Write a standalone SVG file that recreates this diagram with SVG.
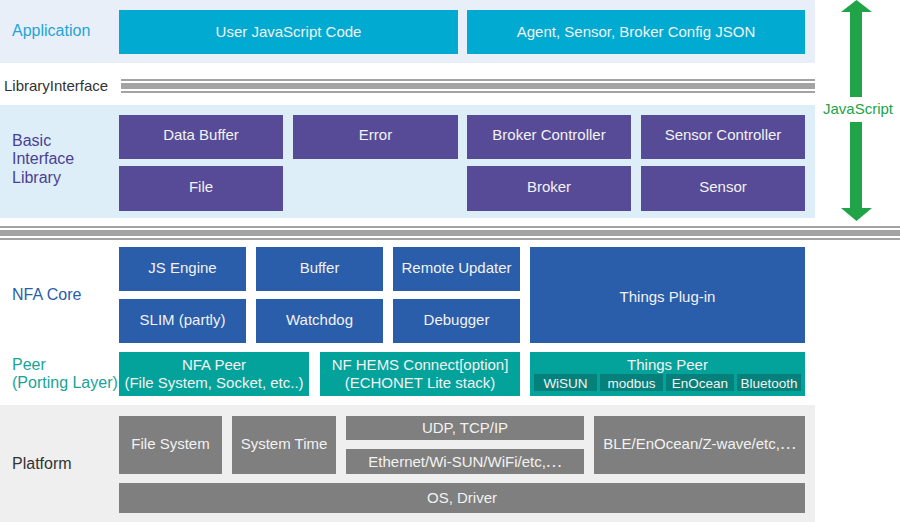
<svg xmlns="http://www.w3.org/2000/svg" width="900" height="522" viewBox="0 0 900 522">
<style>
text{font-family:"Liberation Sans",Arial,sans-serif;}
.bt{font-size:15px;fill:#f2f2f2;text-anchor:middle;}
.st{font-size:13.5px;fill:#f2f2f2;text-anchor:middle;}
.lb{font-size:16px;}
.jp{font-family:"Noto Sans CJK JP",sans-serif;}
.app{fill:#00aad1;}
.bil{fill:#574b97;}
.core{fill:#2a5daa;}
.peer{fill:#03a29a;}
.sub{fill:#06807a;}
.plat{fill:#7f7f7f;}
.stripe{fill:#a3a3a3;}
.arrow{fill:#21a448;}
</style>
<rect width="900" height="522" fill="#ffffff"/>
<!-- bands -->
<rect x="0" y="0" width="815" height="63" fill="#e9eff8"/>
<rect x="0" y="105" width="815" height="113" fill="#ddeef9"/>
<rect x="0" y="405" width="815" height="117" fill="#efefef"/>
<!-- separators -->
<g id="library-interface-line">
<rect class="stripe" x="121" y="79" width="694" height="2"/>
<rect class="stripe" x="121" y="83" width="694" height="6"/>
<rect class="stripe" x="121" y="91" width="694" height="2"/>
</g>
<g id="core-separator">
<rect class="stripe" x="0" y="226" width="900" height="2"/>
<rect class="stripe" x="0" y="230" width="900" height="6"/>
<rect class="stripe" x="0" y="238" width="900" height="2"/>
</g>
<!-- labels -->
<g id="labels">
<text class="lb" x="12" y="36" fill="#1ea5d6">Application</text>
<text class="lb" x="4" y="91" fill="#333333" style="font-size:15px">LibraryInterface</text>
<text class="lb" x="12" y="146" fill="#4b3f93">Basic</text>
<text class="lb" x="12" y="164" fill="#4b3f93">Interface</text>
<text class="lb" x="12" y="183" fill="#4b3f93">Library</text>
<text class="lb" x="12" y="300" fill="#2a5daa">NFA Core</text>
<text class="lb" x="12" y="370" fill="#19a399">Peer</text>
<text class="lb" x="12" y="388" fill="#19a399">(Porting Layer)</text>
<text class="lb" x="12" y="469" fill="#333333">Platform</text>
</g>
<!-- Application -->
<g id="user-js-code"><rect class="app" x="119" y="10" width="339" height="44"/><text class="bt" x="288.5" y="37">User JavaScript Code</text></g>
<g id="config-json"><rect class="app" x="467" y="10" width="338" height="44"/><text class="bt" x="636" y="37">Agent, Sensor, Broker Config JSON</text></g>
<!-- Basic Interface Library -->
<g id="data-buffer"><rect class="bil" x="119" y="115" width="164" height="44"/><text class="bt" x="201" y="140">Data Buffer</text></g>
<g id="error"><rect class="bil" x="293" y="115" width="165" height="44"/><text class="bt" x="375.5" y="140">Error</text></g>
<g id="broker-controller"><rect class="bil" x="467" y="115" width="164" height="44"/><text class="bt" x="549" y="140">Broker Controller</text></g>
<g id="sensor-controller"><rect class="bil" x="641" y="115" width="164" height="44"/><text class="bt" x="723" y="140">Sensor Controller</text></g>
<g id="file"><rect class="bil" x="119" y="166" width="164" height="45"/><text class="bt" x="201" y="192">File</text></g>
<g id="broker"><rect class="bil" x="467" y="166" width="164" height="45"/><text class="bt" x="549" y="192">Broker</text></g>
<g id="sensor"><rect class="bil" x="641" y="166" width="164" height="45"/><text class="bt" x="723" y="192">Sensor</text></g>
<!-- NFA Core -->
<g id="js-engine"><rect class="core" x="119" y="247" width="127" height="44"/><text class="bt" x="182.5" y="273">JS Engine</text></g>
<g id="buffer"><rect class="core" x="256" y="247" width="127" height="44"/><text class="bt" x="319.5" y="273">Buffer</text></g>
<g id="remote-updater"><rect class="core" x="393" y="247" width="127" height="44"/><text class="bt" x="456.5" y="273">Remote Updater</text></g>
<g id="slim"><rect class="core" x="119" y="299" width="127" height="44"/><text class="bt" x="182.5" y="325">SLIM (partly)</text></g>
<g id="watchdog"><rect class="core" x="256" y="299" width="127" height="44"/><text class="bt" x="319.5" y="325">Watchdog</text></g>
<g id="debugger"><rect class="core" x="393" y="299" width="127" height="44"/><text class="bt" x="456.5" y="325">Debugger</text></g>
<g id="things-plugin"><rect class="core" x="530" y="247" width="275" height="96"/><text class="bt" x="667.5" y="302">Things Plug-in</text></g>
<!-- Peer -->
<g id="nfa-peer"><rect class="peer" x="119" y="352" width="190" height="44"/><text class="bt" x="214" y="370">NFA Peer</text><text class="bt" x="214" y="388">(File System, Socket, etc..)</text></g>
<g id="nf-hems"><rect class="peer" x="320" y="352" width="200" height="44"/><text class="bt" x="420" y="370">NF HEMS Connect[option]</text><text class="bt" x="420" y="388">(ECHONET Lite stack)</text></g>
<g id="things-peer"><rect class="peer" x="530" y="352" width="275" height="44"/><text class="bt" x="667.5" y="370">Things Peer</text>
<rect class="sub" x="534" y="374" width="63" height="17"/><text class="st" x="565.5" y="388">WiSUN</text>
<rect class="sub" x="600" y="374" width="63" height="17"/><text class="st" x="631.5" y="388">modbus</text>
<rect class="sub" x="666" y="374" width="68" height="17"/><text class="st" x="700" y="388">EnOcean</text>
<rect class="sub" x="737" y="374" width="64" height="17"/><text class="st" x="769" y="388">Bluetooth</text>
</g>
<!-- Platform -->
<g id="file-system"><rect class="plat" x="119" y="416" width="103" height="58"/><text class="bt" x="170.5" y="449">File System</text></g>
<g id="system-time"><rect class="plat" x="232" y="416" width="104" height="58"/><text class="bt" x="284" y="449">System Time</text></g>
<g id="udp-tcpip"><rect class="plat" x="346" y="416" width="238" height="24"/><text class="bt" x="465" y="433">UDP, TCP/IP</text></g>
<g id="ethernet"><rect class="plat" x="346" y="449" width="238" height="25"/><text class="bt" x="465" y="467">Ethernet/Wi-SUN/WiFi/etc,<tspan class="jp">…</tspan></text></g>
<g id="ble"><rect class="plat" x="594" y="416" width="211" height="58"/><text class="bt" x="699.5" y="449">BLE/EnOcean/Z-wave/etc,<tspan class="jp">…</tspan></text></g>
<g id="os-driver"><rect class="plat" x="119" y="483" width="686" height="30"/><text class="bt" x="462" y="503">OS, Driver</text></g>
<!-- connectors -->
<g id="connectors">
<g id="javascript-arrow">
<polygon class="arrow" points="841,12 872,12 856.5,0"/>
<rect class="arrow" x="850" y="11" width="12" height="86"/>
<rect class="arrow" x="850" y="122" width="12" height="87"/>
<polygon class="arrow" points="841,208 872,208 856.5,221"/>
<text x="858" y="114" style="font-size:15px;fill:#21a448;text-anchor:middle">JavaScript</text>
</g>
</g>
</svg>
